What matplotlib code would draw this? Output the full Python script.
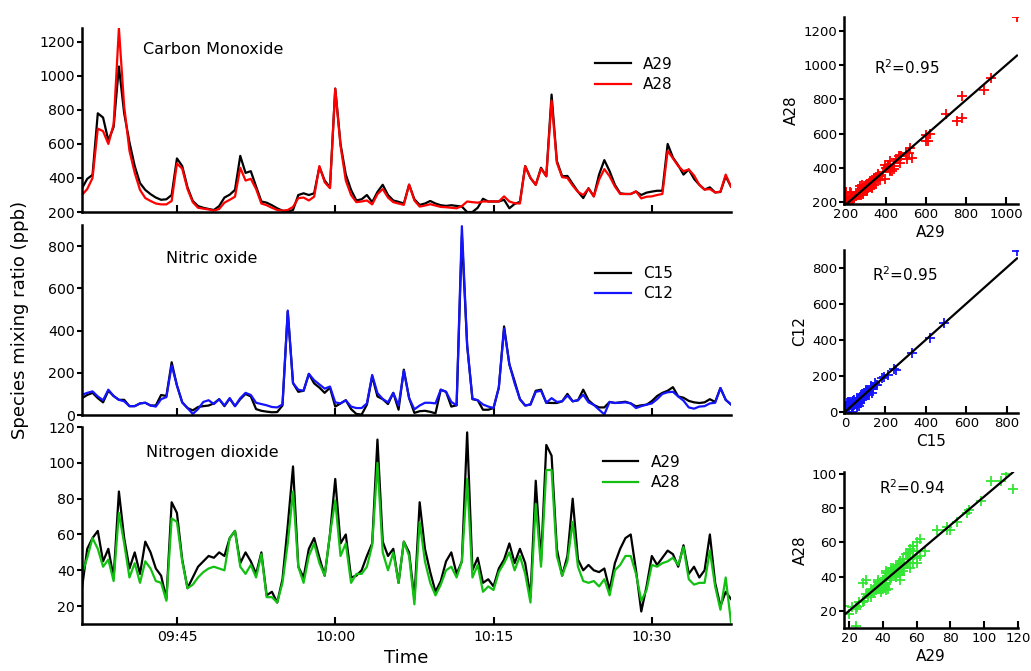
import numpy as np
import pandas as pd
import matplotlib
matplotlib.use("Agg")
import matplotlib.pyplot as plt
import matplotlib.dates as mdates

# 30 s samples, 09:36:00 - 10:37:30
times = pd.date_range("2010-06-01 09:36:00", periods=124, freq="30s")

co_a29 = [339, 395, 418, 780, 755, 620, 700, 1055, 780, 610,
          470, 370, 330, 305, 285, 272, 275, 300, 515, 470,
          345, 265, 235, 225, 218, 212, 235, 285, 302, 330,
          530, 430, 440, 350, 262, 255, 240, 222, 208, 202,
          212, 300, 310, 300, 310, 465, 385, 345, 925, 600,
          420, 330, 268, 275, 300, 258, 318, 360, 300, 268,
          260, 250, 360, 275, 242, 250, 265, 250, 240, 236,
          240, 236, 232, 200, 200, 225, 278, 262, 262, 262,
          272, 222, 248, 260, 470, 400, 360, 460, 410, 890,
          500, 410, 412, 365, 320, 282, 340, 292, 420, 505,
          440, 360, 310, 306, 306, 320, 300, 314, 320, 325,
          325, 600, 520, 475, 420, 450, 395, 360, 332, 345,
          315, 318, 410, 349]
co_a28 = [300, 335, 400, 690, 675, 600, 715, 1280, 820, 560,
          430, 330, 282, 265, 250, 245, 245, 265, 485, 455,
          335, 258, 225, 220, 215, 208, 218, 255, 272, 290,
          460, 385, 395, 335, 250, 240, 225, 212, 208, 212,
          230, 282, 285, 268, 290, 470, 375, 340, 925, 590,
          385, 300, 258, 262, 268, 245, 305, 335, 285, 258,
          250, 242, 362, 268, 232, 238, 246, 238, 230, 228,
          225, 222, 235, 262, 258, 255, 262, 262, 262, 262,
          292, 262, 252, 250, 470, 400, 360, 455, 410, 855,
          490, 405, 400, 355, 318, 300, 338, 292, 390, 452,
          410, 350, 306, 306, 306, 322, 280, 290, 292, 300,
          306, 560, 515, 470, 440, 450, 415, 360, 332, 335,
          315, 320, 420, 349]

no_c15 = [80, 95, 105, 80, 60, 115, 90, 72, 72, 42,
          42, 55, 58, 45, 45, 95, 90, 250, 140, 60,
          33, 22, 38, 42, 45, 55, 75, 42, 78, 42,
          75, 100, 88, 28, 20, 16, 13, 14, 45, 490,
          151, 110, 115, 195, 150, 130, 105, 130, 40, 55,
          70, 28, 5, 2, 49, 183, 88, 75, 52, 105,
          25, 215, 80, 10, 18, 20, 15, 8, 120, 110,
          40, 46, 850, 330, 75, 70, 25, 25, 33, 130,
          420, 240, 160, 75, 45, 50, 115, 120, 58, 57,
          57, 65, 100, 65, 70, 120, 70, 48, 36, 36,
          62, 57, 60, 63, 55, 41, 46, 49, 66, 90,
          105, 115, 132, 88, 82, 67, 60, 57, 60, 75,
          62, 128, 72, 50]
no_c12 = [96, 105, 112, 88, 70, 120, 90, 72, 65, 42,
          42, 55, 58, 45, 40, 75, 85, 235, 140, 60,
          33, 5, 28, 62, 70, 52, 75, 45, 80, 42,
          80, 105, 95, 58, 52, 46, 38, 36, 50, 495,
          151, 120, 115, 195, 165, 145, 125, 135, 60, 55,
          70, 40, 33, 33, 55, 190, 104, 76, 60, 105,
          45, 210, 80, 27, 45, 58, 58, 55, 120, 110,
          62, 46, 895, 330, 78, 70, 50, 40, 33, 130,
          410, 240, 150, 75, 45, 50, 110, 115, 58, 80,
          62, 65, 92, 65, 70, 96, 60, 48, 25, 3,
          62, 57, 58, 60, 55, 33, 42, 49, 55, 75,
          100, 108, 110, 88, 68, 36, 30, 40, 42, 55,
          58, 128, 72, 50]

no2_a29 = [30, 52, 58, 62, 45, 52, 36, 84, 58, 41,
           50, 38, 56, 50, 41, 37, 24, 78, 72, 46,
           30, 36, 42, 45, 48, 47, 50, 48, 58, 62,
           44, 50, 45, 38, 50, 26, 28, 22, 35, 65,
           98, 42, 36, 52, 58, 47, 37, 60, 91, 55,
           60, 36, 37, 40, 48, 55, 113, 56, 48, 52,
           33, 56, 50, 24, 78, 52, 39, 28, 34, 45,
           50, 38, 45, 117, 40, 47, 33, 35, 31, 41,
           46, 55, 44, 52, 44, 25, 90, 45, 110, 104,
           52, 37, 48, 80, 46, 40, 43, 40, 39, 41,
           29, 44, 52, 58, 60, 40, 17, 31, 48, 43,
           47, 51, 49, 42, 54, 38, 42, 36, 40, 60,
           33, 20, 28, 24]
no2_a28 = [38, 47, 58, 52, 42, 46, 34, 72, 55, 36,
           44, 33, 45, 41, 34, 33, 23, 69, 67, 45,
           30, 32, 36, 39, 41, 42, 41, 40, 58, 62,
           42, 38, 43, 36, 49, 25, 25, 22, 33, 55,
           84, 42, 33, 48, 55, 44, 37, 60, 79, 48,
           55, 33, 38, 38, 42, 54, 100, 50, 40, 50,
           33, 56, 48, 21, 67, 45, 33, 26, 32, 40,
           42, 36, 45, 91, 36, 43, 28, 31, 29, 39,
           44, 50, 40, 48, 38, 22, 77, 42, 96, 96,
           48, 37, 45, 67, 42, 34, 33, 34, 31, 35,
           26, 40, 43, 48, 48, 38, 23, 29, 43, 42,
           44, 45, 47, 43, 53, 35, 32, 33, 33, 51,
           31, 18, 36, 11]

RED = "#ff0000"
BLUE = "#1414ff"
GREEN = "#12c012"
SCAT_GREEN = "#33e633"


def style(ax, tick_size=10.5):
    for s in ["top", "right"]:
        ax.spines[s].set_visible(False)
    for s in ["left", "bottom"]:
        ax.spines[s].set_linewidth(1.8)
    ax.tick_params(axis="y", direction="out", length=3.5, width=1.5, pad=1.5, labelsize=tick_size)
    ax.tick_params(axis="x", direction="in", length=5, width=1.5, pad=4, labelsize=tick_size)


def time_panel(ax, y1, y2, name1, name2, color, title, ylim, yticks, title_xy, leg_xy):
    ax.plot(times, y1, color="black", lw=1.6, label=name1)
    ax.plot(times, y2, color=color, lw=1.6, label=name2)
    ax.set_xlim(times[0], times[-1])
    ax.set_ylim(*ylim)
    ax.set_yticks(yticks)
    ax.xaxis.set_major_locator(mdates.MinuteLocator(byminute=[0, 15, 30, 45]))
    ax.xaxis.set_major_formatter(mdates.DateFormatter("%H:%M"))
    style(ax, tick_size=10.2)
    ax.text(title_xy[0], title_xy[1], title, transform=ax.transAxes,
            fontsize=11.5, va="center", ha="left")
    ax.legend(loc="upper left", bbox_to_anchor=leg_xy, frameon=False,
              fontsize=11, handlelength=2.3, labelspacing=0.35)


def scatter_panel(ax, x, y, color, r2, xlim, ylim, xticks, yticks, xlabel, ylabel, r2_xy):
    x = np.asarray(x, dtype=float)
    y = np.asarray(y, dtype=float)
    ax.scatter(x, y, marker="+", s=42, linewidths=1.3, color=color, zorder=2)
    k, b = np.polyfit(x, y, 1)
    xs = np.array([x.min(), x.max()])
    ax.plot(xs, k * xs + b, color="black", lw=1.6, zorder=3)
    ax.set_xlim(*xlim)
    ax.set_ylim(*ylim)
    ax.set_xticks(xticks)
    ax.set_yticks(yticks)
    style(ax, tick_size=9.5)
    ax.tick_params(axis="x", pad=3)
    ax.set_xlabel(xlabel, fontsize=11, labelpad=3)
    ax.set_ylabel(ylabel, fontsize=11, labelpad=3)
    ax.text(r2_xy[0], r2_xy[1], "R$^2$=%.2f" % r2, transform=ax.transAxes,
            fontsize=11, va="center", ha="left")


fig = plt.figure(figsize=(10.31, 6.71), dpi=100)

ax_co = fig.add_axes([0.0795, 0.684, 0.6295, 0.274])
ax_no = fig.add_axes([0.0795, 0.3815, 0.6295, 0.283])
ax_no2 = fig.add_axes([0.0795, 0.070, 0.6295, 0.2936])

time_panel(ax_co, co_a29, co_a28, "A29", "A28", RED, "Carbon Monoxide",
           (200, 1280), range(200, 1201, 200), (0.094, 0.886), (0.77, 0.92))
time_panel(ax_no, no_c15, no_c12, "C15", "C12", BLUE, "Nitric oxide",
           (0, 900), range(0, 801, 200), (0.129, 0.826), (0.77, 0.857))
time_panel(ax_no2, no2_a29, no2_a28, "A29", "A28", GREEN, "Nitrogen dioxide",
           (10, 120), range(20, 121, 20), (0.0986, 0.873), (0.782, 0.93))
ax_co.tick_params(labelbottom=False)
ax_no.tick_params(labelbottom=False)
ax_no2.set_xlabel("Time", fontsize=13, labelpad=4)

fig.text(0.019, 1 - 320 / 671, "Species mixing ratio (ppb)", rotation=90,
         fontsize=13, va="center", ha="center")

sc_co = fig.add_axes([0.8186, 0.696, 0.1688, 0.2787])
sc_no = fig.add_axes([0.8186, 0.3845, 0.1688, 0.243])
sc_no2 = fig.add_axes([0.8186, 0.064, 0.1688, 0.2325])

scatter_panel(sc_co, co_a29, co_a28, RED, 0.95, (190, 1060), (190, 1280),
              range(200, 1001, 200), range(200, 1201, 200), "A29", "A28", (0.17, 0.73))
scatter_panel(sc_no, no_c15, no_c12, BLUE, 0.95, (-5, 855), (-3, 900),
              range(0, 801, 200), range(0, 801, 200), "C15", "C12", (0.16, 0.85))
scatter_panel(sc_no2, no2_a29, no2_a28, SCAT_GREEN, 0.94, (17, 120), (10, 101),
              range(20, 121, 20), range(20, 101, 20), "A29", "A28", (0.2, 0.9))

fig.savefig("out.png", dpi=100)
